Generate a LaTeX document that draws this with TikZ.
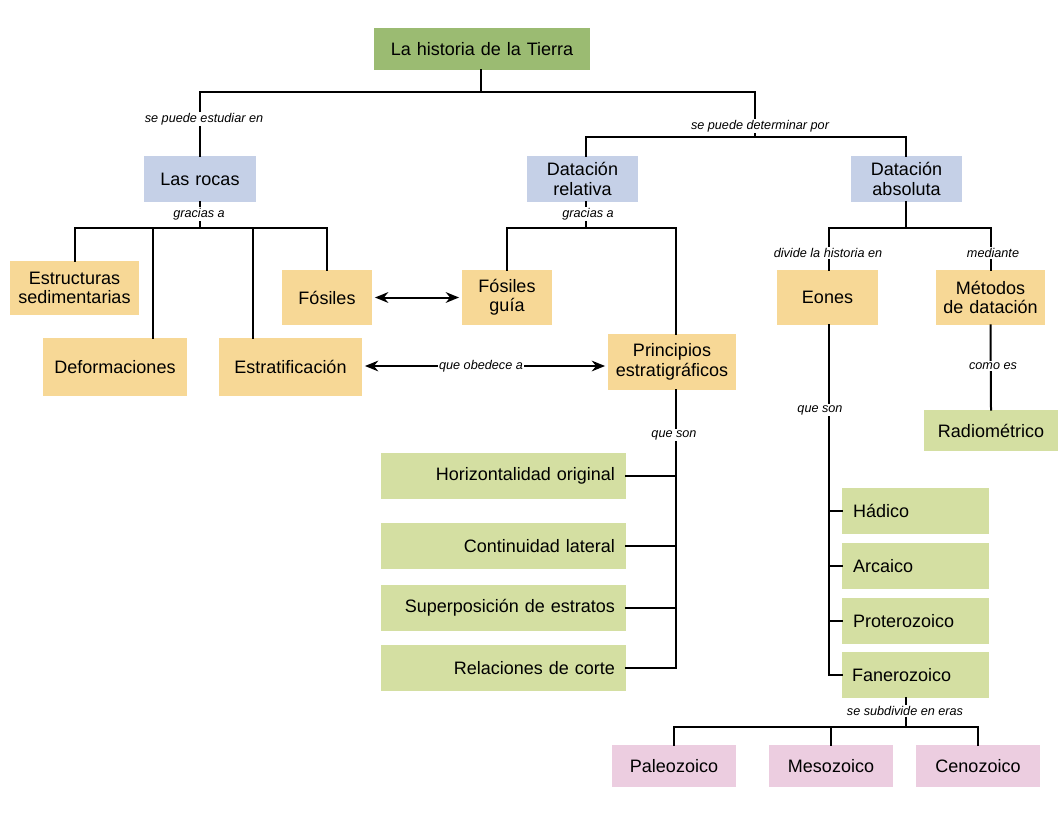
\documentclass[tikz,border=0pt]{standalone}
\usepackage{fontspec}
\setmainfont{Liberation Sans}
\usetikzlibrary{arrows.meta}
\definecolor{cTitle}{HTML}{9BBB72}
\definecolor{cBlue}{HTML}{C5D0E7}
\definecolor{cYel}{HTML}{F7D896}
\definecolor{cGrn}{HTML}{D4DFA2}
\definecolor{cPink}{HTML}{ECCDE0}
\tikzset{
  base/.style={inner sep=0pt, font=\fontsize{13.5}{14.5}\selectfont, text=black, align=center},
  tbox/.style={base, fill=cTitle},
  bbox/.style={base, fill=cBlue},
  ybox/.style={base, fill=cYel},
  gbox/.style={base, fill=cGrn},
  pbox/.style={base, fill=cPink},
  lbl/.style={fill=white, inner xsep=1pt, inner ysep=1pt, font=\fontsize{9.5}{10}\selectfont\itshape},
  conn/.style={line width=1.5pt, line cap=rect},
  dbl/.style={line width=1.5pt, {Stealth[length=10pt,width=8pt]}-{Stealth[length=10pt,width=8pt]}, shorten <=2pt, shorten >=2pt},
}
\newcommand\bx[8]{\node[#7, minimum width={(#4-#2)*0.75pt}, minimum height={(#5-#3)*0.75pt}, text width={(#4-#2-2*#6)*0.75pt}] (#1) at ({(#2+#4)/2},{(#3+#5)/2}) {#8};}
\begin{document}
\begin{tikzpicture}[x=0.75pt, y=-0.75pt]
\useasboundingbox[fill=white] (0,0) rectangle (1063,813);
% boxes
\bx{title}{374}{28}{590}{70}{5}{tbox}{La historia de la Tierra}
\bx{rocas}{144}{156}{256}{202}{5}{bbox}{Las rocas}
\bx{rel}{527}{156}{638}{202}{5}{bbox}{Datación\\relativa}
\bx{abs}{851}{156}{962}{202}{5}{bbox}{Datación\\absoluta}
\bx{estr}{10}{261}{139}{315}{2}{ybox}{Estructuras\\sedimentarias}
\bx{deform}{43}{338}{187}{396}{4}{ybox}{Deformaciones}
\bx{fos}{282}{270}{372}{325}{4}{ybox}{Fósiles}
\bx{estrat}{219}{338}{362}{396}{4}{ybox}{Estratificación\\[4pt]}
\bx{fg}{462}{270}{552}{325}{4}{ybox}{Fósiles\\guía}
\bx{princ}{608}{334}{736}{390}{3}{ybox}{Principios\\estratigráficos}
\bx{eon}{777}{270}{878}{325}{4}{ybox}{Eones}
\bx{met}{936}{270}{1045}{325}{3}{ybox}{Métodos\\de datación}
\bx{radio}{924}{410}{1058}{451}{4}{gbox}{Radiométrico}
\bx{hor}{381}{453}{626}{499}{11}{gbox,align=right}{Horizontalidad original}
\bx{cont}{381}{523}{626}{569}{11}{gbox,align=right}{Continuidad lateral}
\bx{sup}{381}{585}{626}{631}{11}{gbox,align=right}{Superposición de estratos}
\bx{corte}{381}{645}{626}{691}{11}{gbox,align=right}{Relaciones de corte}
\bx{had}{842}{488}{989}{534}{11}{gbox,align=left}{Hádico}
\bx{arc}{842}{543}{989}{589}{11}{gbox,align=left}{Arcaico}
\bx{prot}{842}{598}{989}{644}{11}{gbox,align=left}{Proterozoico}
\bx{fan}{842}{652}{989}{698}{10}{gbox,align=left}{Fanerozoico}
\bx{paleo}{612}{745}{736}{787}{4}{pbox}{Paleozoico}
\bx{meso}{769}{745}{893}{787}{4}{pbox}{Mesozoico}
\bx{ceno}{916}{745}{1040}{787}{4}{pbox}{Cenozoico\\[3pt]}
% junction coordinates
\coordinate (jT) at (481,92);
\coordinate (jD) at (755,137);
\coordinate (jR) at (200,228);
\coordinate (dA) at (153,228);
\coordinate (dB) at (253,228);
\coordinate (jRel) at (586,228);
\coordinate (pv) at (676,228);
\coordinate (jA) at (906,228);
\coordinate (ev) at (829,228);
\coordinate (jF) at (906,727);
% connectors
\draw[conn] (jT |- title.south) -- (jT);
\draw[conn] (rocas.north) |- (jT) -| (jD);
\draw[conn] (rel.north -| jRel) |- (jD) -| (jA |- abs.north);
\draw[conn] (jR |- rocas.south) -- (jR);
\draw[conn] (estr.north) |- (jR) -| (fos.north);
\draw[conn] (dA) -- (dA |- deform.north);
\draw[conn] (dB) -- (dB |- estrat.north);
\draw[conn] (rel.south -| jRel) -- (jRel);
\draw[conn] (fg.north) |- (pv) -- (pv |- princ.north);
\draw[conn] (pv |- princ.south) -- (pv |- corte.east) -- (corte.east);
\draw[conn] (hor.east) -- (hor.east -| pv);
\draw[conn] (cont.east) -- (cont.east -| pv);
\draw[conn] (sup.east) -- (sup.east -| pv);
\draw[conn] (jA |- abs.south) -- (jA);
\draw[conn] (ev |- eon.north) |- (jA) -| (met.north);
\draw[conn] (ev |- eon.south) -- (ev |- fan.west) -- (fan.west);
\draw[conn] (had.west) -- (had.west -| ev);
\draw[conn] (arc.west) -- (arc.west -| ev);
\draw[conn] (prot.west) -- (prot.west -| ev);
\draw[conn] (met.south) -- (radio.north);
\draw[conn] (jF |- fan.south) -- (jF);
\draw[conn] (paleo.north) |- (jF) -| (ceno.north);
\draw[conn] (meso.north) -- (meso.north |- jF);
\draw[dbl] (fos.east) -- (fg.west);
\draw[dbl] (estrat.east |- 0,366) -- (princ.west |- 0,366);
% labels
\node[lbl] (l1) at (204,119) {se puede estudiar en};
\node[lbl] (l2) at (760,126) {se puede determinar por};
\node[lbl] (l3) at (199,214) {gracias a};
\node[lbl] (l4) at (588,214) {gracias a};
\node[lbl] (l5) at (481,366) {que obedece a};
\node[lbl] (l6) at (674,435) {que son};
\node[lbl] (l7) at (828,253) {divide la historia en};
\node[lbl] (l8) at (993,253) {mediante};
\node[lbl] (l9) at (820,410) {que son};
\node[lbl] (l10) at (993,366) {como es};
\node[lbl] (l11) at (905,711) {se subdivide en eras};
\end{tikzpicture}
\end{document}
